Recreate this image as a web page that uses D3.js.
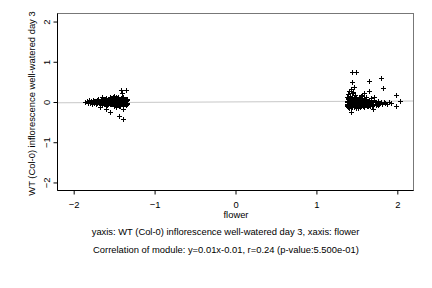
<!DOCTYPE html>
<html>
<head>
<meta charset="utf-8">
<script src="https://cdn.jsdelivr.net/npm/d3@7"></script>
<style>
  body { margin: 0; background: #fff; }
  svg { display: block; }
  text { font-family: "Liberation Sans", Arial, sans-serif; fill: #000; }
</style>
</head>
<body>
<script>
const W = 432, H = 288;
const margin = {top: 13, right: 19, bottom: 98, left: 57};
const fontSize = 9.4;

// data
const xTicks = [-2, -1, 0, 1, 2];
const yTicks = [-2, -1, 0, 1, 2];
const xTitle = "flower";
const yTitle = "WT (Col-0) inflorescence well-watered day 3";
const subtitle1 = "yaxis: WT (Col-0) inflorescence well-watered day 3, xaxis: flower";
const subtitle2 = "Correlation of module: y=0.01x-0.01, r=0.24 (p-value:5.500e-01)";
const slope = 0.01, intercept = -0.01;

const leftX = [-1.85,-1.83,-1.82,-1.80,-1.79,-1.78,-1.77,-1.76,-1.75,-1.74,-1.73,-1.72,-1.71,-1.70,-1.69,-1.68,-1.67,-1.66,-1.65,-1.64,
  -1.63,-1.62,-1.61,-1.60,-1.59,-1.58,-1.57,-1.56,-1.55,-1.54,-1.53,-1.52,-1.51,-1.50,-1.49,-1.48,-1.47,-1.46,-1.45,-1.44,
  -1.43,-1.42,-1.41,-1.40,-1.39,-1.38,-1.37,-1.36,-1.35,-1.34,-1.33,
  -1.48,-1.45,-1.42,-1.40,-1.38,-1.36,-1.52,-1.58,-1.64,-1.70,-1.44,-1.39,-1.35,-1.47,-1.55,-1.60,
  -1.81,-1.79,-1.76,-1.74,-1.71,-1.69,-1.66,-1.63,-1.61,-1.59,-1.57,-1.56,-1.54,-1.53,-1.51,-1.50,-1.49,-1.47,-1.46,-1.45,
  -1.44,-1.43,-1.42,-1.41,-1.40,-1.39,-1.38,-1.37,-1.36,-1.35,-1.34,-1.33,-1.46,-1.43,-1.41,-1.37,-1.50,-1.53,-1.57,-1.62,
  -1.41,-1.35,-1.40,-1.43,-1.38,-1.55,-1.59,-1.67,-1.50,-1.38,-1.47,-1.65,-1.55,-1.50,-1.45,-1.42];
const leftY = [-0.02,0.01,-0.04,0.03,-0.01,0.02,-0.05,0.00,0.04,-0.03,0.01,-0.06,0.03,-0.02,0.05,-0.04,0.00,0.06,-0.07,0.02,
  -0.03,0.07,-0.05,0.01,0.08,-0.08,0.03,-0.02,0.09,-0.06,0.04,-0.04,0.10,-0.09,0.02,0.06,-0.07,0.08,-0.03,0.11,
  -0.10,0.05,-0.05,0.09,-0.08,0.03,0.07,-0.06,0.01,-0.03,0.04,
  -0.01,0.03,-0.02,0.01,-0.04,0.05,0.01,0.00,-0.01,0.01,-0.06,0.10,-0.09,0.12,-0.05,0.05,
  0.03,-0.03,0.04,0.02,-0.04,0.01,-0.03,0.04,0.06,-0.06,-0.05,0.06,0.07,-0.07,-0.03,0.05,-0.06,0.04,-0.05,0.07,
  0.02,0.07,-0.08,0.08,-0.04,0.05,0.08,-0.05,-0.02,0.06,0.07,-0.06,0.00,0.01,0.02,-0.01,0.08,0.09,0.07,-0.06,
  0.29,0.29,0.22,-0.35,-0.44,-0.27,-0.18,-0.14,-0.12,-0.18,-0.14,0.10,0.12,0.13,0.12,-0.11];

const rightX = [1.38,1.39,1.39,1.40,1.40,1.41,1.41,1.42,1.42,1.43,1.43,1.44,1.44,1.45,1.45,1.46,1.46,1.47,1.47,1.48,
  1.48,1.49,1.50,1.50,1.51,1.52,1.52,1.53,1.54,1.54,1.55,1.56,1.57,1.58,1.58,1.59,1.60,1.61,1.62,1.63,
  1.64,1.65,1.66,1.67,1.68,1.69,1.70,1.71,1.72,1.74,1.75,1.77,1.78,1.80,1.82,1.84,1.86,1.88,1.90,1.93,
  1.38,1.39,1.40,1.41,1.42,1.43,1.44,1.45,1.46,1.47,1.48,1.49,1.50,1.51,1.52,1.53,1.54,1.55,1.56,1.57,
  1.58,1.59,1.60,1.61,1.62,1.63,1.64,1.65,1.66,1.67,1.69,1.71,1.73,1.75,1.77,1.79,1.40,1.43,1.46,1.50,1.55,1.60,
  1.39,1.40,1.42,1.44,1.45,1.48,1.50,1.53,1.56,1.60,1.62,1.68,1.41,1.43,
  1.44,1.49,1.45,1.65,1.80,1.83,1.47,1.41,1.46,1.59,1.65,1.57,1.72,1.99,2.04,1.99,1.70,1.43,1.49];
const rightY = [-0.05,0.02,-0.12,0.06,-0.08,-0.02,-0.15,0.04,-0.10,0.00,-0.13,0.07,-0.06,-0.01,-0.14,0.03,-0.09,-0.04,0.08,-0.12,
  0.01,-0.07,0.05,-0.11,-0.02,-0.15,0.03,-0.08,0.06,-0.05,-0.12,0.00,-0.09,0.04,-0.03,-0.13,0.01,-0.07,0.05,-0.10,
  -0.02,0.03,-0.08,-0.04,0.02,-0.11,-0.01,-0.06,0.03,-0.08,-0.03,0.01,-0.06,-0.02,-0.07,0.00,-0.04,-0.06,-0.02,-0.04,
  0.00,-0.08,-0.14,0.03,-0.05,-0.09,-0.12,0.04,-0.03,-0.14,-0.06,0.02,-0.03,-0.12,-0.08,0.02,-0.13,-0.04,-0.10,0.03,
  -0.12,-0.05,-0.11,0.02,-0.06,-0.02,-0.12,-0.05,-0.01,-0.10,-0.05,-0.09,-0.02,-0.06,-0.09,-0.04,0.09,0.07,0.07,0.08,0.05,0.06,
  0.12,0.18,0.14,0.20,0.11,0.16,0.12,0.10,0.13,0.09,0.12,0.08,0.25,0.31,
  0.73,0.73,0.48,0.50,0.59,0.34,0.37,0.27,0.23,0.21,0.27,0.15,0.11,0.15,0.01,-0.11,-0.18,-0.25,-0.16];

const points = leftX.map((x, i) => ({x, y: leftY[i]}))
  .concat(rightX.map((x, i) => ({x, y: rightY[i]})));

const width = W - margin.left - margin.right;
const height = H - margin.top - margin.bottom;

const svg = d3.select("body").append("svg")
  .attr("width", W)
  .attr("height", H);

const g = svg.append("g")
  .attr("transform", `translate(${margin.left}, ${margin.top})`);

const x = d3.scaleLinear().domain([-2.2, 2.2]).range([0, width]);
const y = d3.scaleLinear().domain([-2.2, 2.2]).range([height, 0]);

// regression line
g.append("line")
  .attr("x1", 0).attr("x2", width)
  .attr("y1", y(slope * -2.2 + intercept))
  .attr("y2", y(slope * 2.2 + intercept))
  .attr("stroke", "#c8c8c8")
  .attr("stroke-width", 1);

// points
g.append("g").selectAll("path")
  .data(points)
  .enter().append("path")
    .attr("transform", d => `translate(${Math.round(x(d.x)) + 0.5}, ${Math.round(y(d.y)) + 0.5})`)
    .attr("d", "M-2.5,0H2.5M0,-2.5V2.5")
    .attr("stroke", "#000")
    .attr("stroke-width", 1)
    .attr("fill", "none");

// box
g.append("rect")
  .attr("x", 0.5).attr("y", 0.5)
  .attr("width", width).attr("height", height)
  .attr("fill", "none")
  .attr("stroke", "#777");

// axes
const xAxis = g.append("g")
  .attr("transform", `translate(0.5, ${height + 0.5})`)
  .call(d3.axisBottom(x).tickValues(xTicks).tickSize(4).tickPadding(7).tickFormat(d3.format("d")));
const yAxis = g.append("g")
  .attr("transform", "translate(0.5, 0.5)")
  .call(d3.axisLeft(y).tickValues(yTicks).tickSize(4).tickPadding(3).tickFormat(d3.format("d")));

[xAxis, yAxis].forEach(a => {
  a.select(".domain").attr("stroke", "#000").attr("d", a === xAxis ? `M0,0H${width}` : `M0,0V${height}`);
  a.selectAll(".tick line").attr("stroke", "#000");
  a.selectAll("text").attr("font-size", fontSize).style("font-family", "Liberation Sans, Arial, sans-serif");
});
yAxis.selectAll(".tick text")
  .attr("text-anchor", "middle")
  .attr("x", null)
  .attr("transform", "translate(-11, 0) rotate(-90)")
  .attr("dy", "0.35em");

// titles
svg.append("text")
  .attr("x", margin.left + x(0) + 1)
  .attr("y", 218)
  .attr("text-anchor", "middle")
  .attr("font-size", fontSize)
  .text(xTitle);

svg.append("text")
  .attr("transform", `translate(35, ${margin.top + height / 2 + 2}) rotate(-90)`)
  .attr("text-anchor", "middle")
  .attr("font-size", fontSize)
  .text(yTitle);

svg.append("text")
  .attr("x", 225.5)
  .attr("y", 235)
  .attr("text-anchor", "middle")
  .attr("font-size", fontSize)
  .text(subtitle1);

svg.append("text")
  .attr("x", 226)
  .attr("y", 253)
  .attr("text-anchor", "middle")
  .attr("font-size", fontSize)
  .text(subtitle2);
</script>
</body>
</html>
